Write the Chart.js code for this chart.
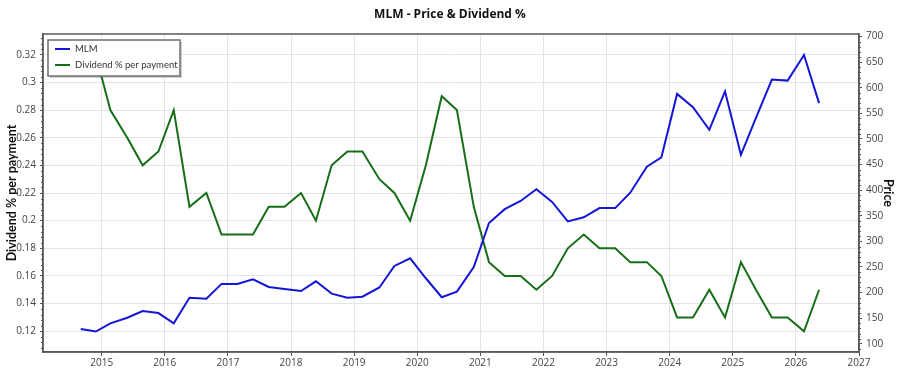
<!DOCTYPE html>
<html>
<head>
<meta charset="utf-8">
<script src="https://cdn.jsdelivr.net/npm/chart.js@4.4.1/dist/chart.umd.min.js"></script>
<style>
  html, body { margin: 0; padding: 0; background: #fff; }
</style>
</head>
<body>
<canvas id="mlmChart" width="900" height="375"></canvas>
<script>
// quarterly dividend payment dates
const payDates = [
    '2014-09-02', '2014-11-28', '2015-02-20', '2015-05-29', '2015-08-26', '2015-11-25',
    '2016-02-22', '2016-05-23', '2016-08-29', '2016-11-25', '2017-02-24', '2017-05-26',
    '2017-08-25', '2017-11-24', '2018-02-28', '2018-05-25', '2018-08-24', '2018-11-23',
    '2019-02-18', '2019-05-27', '2019-08-22', '2019-11-21', '2020-02-20', '2020-05-22',
    '2020-08-18', '2020-11-24', '2021-02-20', '2021-05-22', '2021-08-22', '2021-11-21',
    '2022-02-20', '2022-05-22', '2022-08-22', '2022-11-21', '2023-02-20', '2023-05-18',
    '2023-08-22', '2023-11-14', '2024-02-13', '2024-05-15', '2024-08-18', '2024-11-17',
    '2025-02-17', '2025-05-15', '2025-08-15', '2025-11-14', '2026-02-17', '2026-05-15'
];
const mlmPrice = [
    129, 124, 140, 151, 164, 160, 140, 190, 188, 217, 217, 226,
    211, 207, 203, 222, 198, 190, 192, 210, 252, 267, 228, 191,
    202, 250, 336, 363, 379, 402, 377, 339, 347, 365, 365, 395,
    446, 464, 588, 562, 518, 593, 469, 541, 616, 614, 664, 570
];
const dividendPct = [
    0.31, 0.32, 0.28, 0.26, 0.24, 0.25, 0.28, 0.21, 0.22, 0.19, 0.19, 0.19,
    0.21, 0.21, 0.22, 0.20, 0.24, 0.25, 0.25, 0.23, 0.22, 0.20, 0.24, 0.29,
    0.28, 0.21, 0.17, 0.16, 0.16, 0.15, 0.16, 0.18, 0.19, 0.18, 0.18, 0.17,
    0.17, 0.16, 0.13, 0.13, 0.15, 0.13, 0.17, 0.15, 0.13, 0.13, 0.12, 0.15
];
const dividendTicks = [0.12, 0.14, 0.16, 0.18, 0.2, 0.22, 0.24, 0.26, 0.28, 0.3, 0.32];
const priceTicks = [100, 150, 200, 250, 300, 350, 400, 450, 500, 550, 600, 650, 700];
const yearTicks = [2015, 2016, 2017, 2018, 2019, 2020, 2021, 2022, 2023, 2024, 2025, 2026, 2027];

const FONT = "'Open Sans', 'Noto Sans', sans-serif";
const NARROW = "Lato, 'Open Sans', sans-serif";

function toYear(s) {
    const d = Date.parse(s + 'T00:00:00Z');
    const y = new Date(d).getUTCFullYear();
    const start = Date.UTC(y, 0, 1);
    return y + (d - start) / (Date.UTC(y + 1, 0, 1) - start);
}

const xs = payDates.map(toYear);

// frame round the plot + minor ticks on both value axes
const framePlugin = {
    id: 'frame',
    afterDraw(chart) {
        const { ctx, chartArea: a } = chart;
        ctx.save();
        ctx.strokeStyle = '#5a5a5a';
        ctx.lineWidth = 1.5;
        ctx.strokeRect(a.left, a.top, a.right - a.left, a.bottom - a.top);

        ctx.lineWidth = 1;
        ctx.strokeStyle = '#555';
        [['y', dividendTicks, -1], ['y1', priceTicks, 1]].forEach(([id, ticks, dir]) => {
            const sc = chart.scales[id];
            const x0 = dir < 0 ? a.left : a.right;
            const minor = [];
            for (let i = 0; i < ticks.length - 1; i++) {
                const step = (ticks[i + 1] - ticks[i]) / 5;
                for (let k = 1; k < 5; k++) minor.push(ticks[i] + step * k);
            }
            const step = (ticks[1] - ticks[0]) / 5;
            for (let k = 1; k < 5; k++) {
                minor.push(ticks[0] - step * k, ticks[ticks.length - 1] + step * k);
            }
            minor.forEach(v => {
                if (v < sc.min || v > sc.max) return;
                const py = Math.round(sc.getPixelForValue(v)) + 0.5;
                ctx.beginPath();
                ctx.moveTo(x0, py);
                ctx.lineTo(x0 + dir * 2, py);
                ctx.stroke();
            });
        });
        ctx.restore();
    }
};

// boxed legend in the top-left corner of the plot
const boxLegend = {
    id: 'boxLegend',
    afterDraw(chart) {
        const { ctx, chartArea: a } = chart;
        const x = a.left + 5, y = a.top + 6, w = 132, h = 36;
        ctx.save();
        ctx.fillStyle = 'rgba(0,0,0,0.18)';
        ctx.fillRect(x + 2, y + 2, w, h);
        ctx.fillStyle = '#fff';
        ctx.fillRect(x, y, w, h);
        ctx.strokeStyle = '#6e6e6e';
        ctx.lineWidth = 1.5;
        ctx.strokeRect(x, y, w, h);
        ctx.font = '9.5px ' + NARROW;
        ctx.textBaseline = 'middle';
        chart.data.datasets.forEach((ds, i) => {
            const ly = y + 9 + i * 16;
            ctx.strokeStyle = ds.borderColor;
            ctx.lineWidth = 2;
            ctx.beginPath();
            ctx.moveTo(x + 7, ly);
            ctx.lineTo(x + 22, ly);
            ctx.stroke();
            ctx.fillStyle = '#333';
            ctx.fillText(ds.label, x + 27, ly);
        });
        ctx.restore();
    }
};

const ctx = document.getElementById('mlmChart').getContext('2d');

new Chart(ctx, {
    type: 'line',
    data: {
        datasets: [
            {
                label: 'MLM',
                data: xs.map((x, i) => ({ x: x, y: mlmPrice[i] })),
                borderColor: '#1515d6',
                borderWidth: 2,
                pointRadius: 0,
                tension: 0,
                yAxisID: 'y1'
            },
            {
                label: 'Dividend % per payment',
                data: xs.map((x, i) => ({ x: x, y: dividendPct[i] })),
                borderColor: '#176e18',
                borderWidth: 2,
                pointRadius: 0,
                tension: 0,
                yAxisID: 'y'
            }
        ]
    },
    options: {
        responsive: false,
        animation: false,
        devicePixelRatio: 1,
        layout: { padding: 0 },
        plugins: {
            legend: { display: false },
            tooltip: { enabled: false },
            title: {
                display: true,
                text: 'MLM - Price & Dividend %',
                color: '#111',
                font: { family: FONT, size: 12, weight: 'bold' },
                padding: { top: 7, bottom: 12.6 }
            }
        },
        scales: {
            x: {
                type: 'linear',
                position: 'bottom',
                min: 2014.07,
                max: 2027,
                afterBuildTicks: (sc) => { sc.ticks = yearTicks.map(v => ({ value: v })); },
                afterFit: (sc) => { sc.height = 23; },
                ticks: {
                    autoSkip: false,
                    maxRotation: 0,
                    padding: 1,
                    color: '#444',
                    font: { family: FONT, size: 10 },
                    callback: (v) => String(v)
                },
                grid: { color: '#e4e4e4', tickColor: '#555', tickLength: 4 },
                border: { color: '#5a5a5a', width: 1.5 }
            },
            y: {
                position: 'left',
                min: 0.105,
                max: 0.335,
                afterBuildTicks: (sc) => { sc.ticks = dividendTicks.map(v => ({ value: v })); },
                afterFit: (sc) => { sc.width = 43; },
                ticks: {
                    padding: 4,
                    color: '#444',
                    font: { family: FONT, size: 10 },
                    callback: (v) => String(+v.toFixed(2))
                },
                grid: { color: '#e4e4e4', tickColor: '#555', tickLength: 3 },
                border: { color: '#5a5a5a', width: 1.5 },
                title: {
                    display: true,
                    text: 'Dividend % per payment',
                    color: '#111',
                    font: { family: NARROW, size: 12.5, weight: 'bold' },
                    padding: { top: 4, bottom: 0 }
                }
            },
            y1: {
                position: 'right',
                min: 84,
                max: 705,
                afterBuildTicks: (sc) => { sc.ticks = priceTicks.map(v => ({ value: v })); },
                afterFit: (sc) => { sc.width = 41; },
                ticks: {
                    padding: 4,
                    color: '#444',
                    font: { family: FONT, size: 10 },
                    callback: (v) => String(v)
                },
                grid: { drawOnChartArea: false, tickColor: '#555', tickLength: 3 },
                border: { color: '#5a5a5a', width: 1.5 },
                title: {
                    display: true,
                    text: 'Price',
                    color: '#111',
                    font: { family: NARROW, size: 12.5, weight: 'bold' },
                    padding: { top: 4, bottom: 0 }
                }
            }
        }
    },
    plugins: [framePlugin, boxLegend]
});
</script>
</body>
</html>
